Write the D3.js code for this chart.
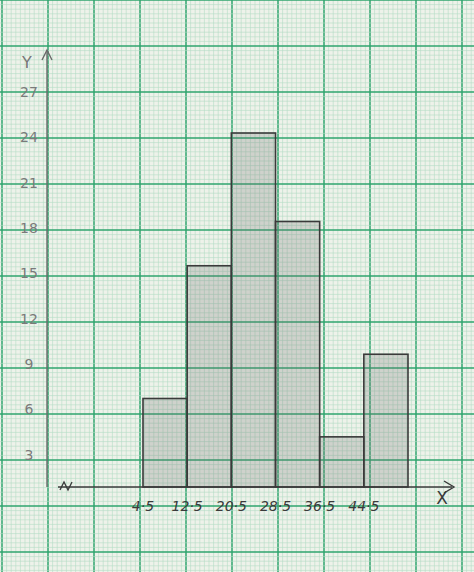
<!DOCTYPE html>
<html><head><meta charset="utf-8">
<script src="https://cdn.jsdelivr.net/npm/d3@7"></script>
<style>body{margin:0;background:#eef2ea}</style></head>
<body><svg id="c" width="474" height="572"></svg>
<script>
const boundaries = [4.5, 12.5, 20.5, 28.5, 36.5, 44.5, 52.5];
const frequencies = [6, 15, 24, 18, 3.4, 9];
const yTicks = [3, 6, 9, 12, 15, 18, 21, 24, 27];
const xTickLabels = ["4·5", "12·5", "20·5", "28·5", "36·5", "44·5"];

const svg = d3.select("#c");
const W = 474, H = 572;
const g0 = svg.append("g");
for (let i = -2; i * 4.6 < W + 10; i++) {
  const x = 2 + i * 4.6, maj = i % 10 === 0;
  g0.append("line").attr("x1", x).attr("x2", x).attr("y1", 0).attr("y2", H)
    .attr("stroke", maj ? "#2fa56e" : "#b3dbc4").attr("stroke-width", maj ? 1.5 : 0.6);
}
for (let i = -2; i * 4.6 < H + 10; i++) {
  const y = 0 + i * 4.6, maj = i % 10 === 0;
  g0.append("line").attr("y1", y).attr("y2", y).attr("x1", 0).attr("x2", W)
    .attr("stroke", maj ? "#2fa56e" : "#b3dbc4").attr("stroke-width", maj ? 1.5 : 0.6);
}

const x = d3.scaleLinear().domain([4.5, 52.5]).range([143, 408]);
const y = d3.scaleLinear().domain([0, 24]).range([487, 133]);
const ink = "#3a3a3a", pencil = "#6a6a6a";

svg.append("g").selectAll("rect").data(frequencies).join("rect")
  .attr("x", (d, i) => x(boundaries[i])).attr("width", (d, i) => x(boundaries[i + 1]) - x(boundaries[i]))
  .attr("y", d => y(d)).attr("height", d => y(0) - y(d))
  .attr("fill", "rgba(110,110,110,0.24)").attr("stroke", ink).attr("stroke-width", 1.6);

svg.append("line").attr("x1", 58).attr("x2", 452).attr("y1", y(0)).attr("y2", y(0)).attr("stroke", ink).attr("stroke-width", 1.6);
svg.append("path").attr("d", `M444,${y(0)-6}L454,${y(0)}L444,${y(0)+6}`).attr("fill", "none").attr("stroke", ink).attr("stroke-width", 1.4);
svg.append("path").attr("d", `M60,${y(0)+3}l4,-8l4,8l4,-8`).attr("fill", "none").attr("stroke", ink).attr("stroke-width", 1.3);
svg.append("line").attr("x1", 47).attr("x2", 47).attr("y1", 50).attr("y2", y(0)).attr("stroke", pencil).attr("stroke-width", 1.4);
svg.append("path").attr("d", "M42,60L47,50L52,60").attr("fill", "none").attr("stroke", pencil).attr("stroke-width", 1.4);

const font = "'DejaVu Sans', sans-serif";
svg.append("g").selectAll("text").data(yTicks).join("text")
  .attr("x", 29).attr("y", d => y(d) + 8 + (27 - d) * 0.375).attr("text-anchor", "middle")
  .attr("font-family", font).attr("font-size", 14).attr("fill", "#7a7a7a").text(d => d);
svg.append("text").attr("x", 27).attr("y", 68).attr("text-anchor", "middle")
  .attr("font-family", font).attr("font-size", 16).attr("fill", "#777").text("Y");
svg.append("g").selectAll("text").data(xTickLabels).join("text")
  .attr("x", (d, i) => x(boundaries[i])).attr("y", 511).attr("text-anchor", "middle")
  .attr("font-family", font).attr("font-size", 14).attr("font-style", "italic").attr("fill", ink).text(d => d);
svg.append("text").attr("x", 442).attr("y", 504).attr("text-anchor", "middle")
  .attr("font-family", font).attr("font-size", 17).attr("fill", ink).text("X");
</script></body></html>
